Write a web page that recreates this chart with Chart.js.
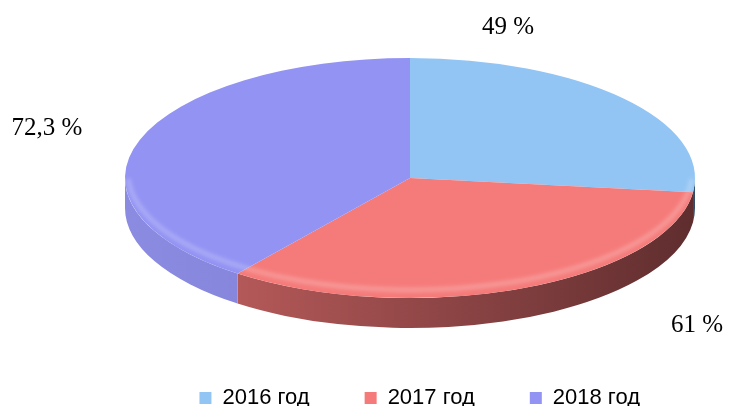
<!DOCTYPE html>
<html>
<head>
<meta charset="utf-8">
<script src="https://cdn.jsdelivr.net/npm/chart.js@4"></script>
<style>
  html, body { margin: 0; padding: 0; background: #fff; overflow: hidden; }
  #wrap { width: 729px; height: 406px; position: relative; }
</style>
</head>
<body>
<div id="wrap"><canvas id="pie" width="729" height="406"></canvas></div>
<script>
// Chart data
const years = ['2016 год', '2017 год', '2018 год'];
const values = [49, 61, 72.3];
const valueLabels = ['49 %', '61 %', '72,3 %'];

const topColors = ['#93c5f4', '#f57b7a', '#9393f4'];
const sideLight = ['#5d88b4', '#c96363', '#8b8be2'];
const sideDark = ['#2f4c6a', '#5f2d2e', '#7373c6'];

// 3D look: the flat pie is stretched sideways, then a wall is drawn under it
const stretch = 2.375;
const depth = 30;

const tilt3d = {
  id: 'tilt3d',
  beforeDatasetsDraw(chart) {
    const ctx = chart.ctx;
    const arcs = chart.getDatasetMeta(0).data;
    if (!arcs.length) return;
    const cx = arcs[0].x, cy = arcs[0].y;
    const ry = arcs[0].outerRadius, rx = ry * stretch;

    arcs.forEach((arc, i) => {
      const a1 = Math.max(arc.startAngle, 0);
      const a2 = Math.min(arc.endAngle, Math.PI);
      if (a2 <= a1) return;
      const g = ctx.createLinearGradient(cx - rx, 0, cx + rx, 0);
      g.addColorStop(0, sideLight[i]);
      g.addColorStop(1, sideDark[i]);
      ctx.save();
      ctx.beginPath();
      ctx.ellipse(cx, cy, rx, ry, 0, a1, a2, false);
      ctx.ellipse(cx, cy + depth, rx, ry, 0, a2, a1, true);
      ctx.closePath();
      ctx.fillStyle = g;
      ctx.fill();
      ctx.restore();
    });

    ctx.save();
    ctx.translate(cx, cy);
    ctx.scale(stretch, 1);
    ctx.translate(-cx, -cy);
  },
  afterDatasetsDraw(chart) {
    const ctx = chart.ctx;
    ctx.restore();
    const arcs = chart.getDatasetMeta(0).data;
    if (!arcs.length) return;
    const cx = arcs[0].x, cy = arcs[0].y;
    const ry = arcs[0].outerRadius, rx = ry * stretch;

    // soft rim highlight along the front edge
    ctx.save();
    ctx.filter = 'blur(2px)';
    ctx.beginPath();
    ctx.ellipse(cx, cy - 5, rx - 3, ry - 3, 0, 0.05, Math.PI - 0.05);
    ctx.strokeStyle = 'rgba(255,255,255,0.28)';
    ctx.lineWidth = 4;
    ctx.stroke();
    ctx.restore();

    // value labels
    const labelSpots = [[508, 27], [697, 325], [47, 128]];
    ctx.save();
    ctx.font = '25px "Liberation Serif", "Times New Roman", serif';
    ctx.fillStyle = '#000';
    ctx.textAlign = 'center';
    ctx.textBaseline = 'middle';
    valueLabels.forEach((t, i) => {
      ctx.fillText(t, labelSpots[i][0], labelSpots[i][1]);
    });
    ctx.restore();
  }
};

new Chart(document.getElementById('pie'), {
  type: 'pie',
  data: {
    labels: years,
    datasets: [{
      data: values,
      backgroundColor: topColors,
      borderWidth: 0,
      radius: 120
    }]
  },
  options: {
    responsive: false,
    animation: false,
    rotation: 0,
    layout: { padding: { left: 125, right: 34, top: 24, bottom: -13 } },
    plugins: {
      tooltip: { enabled: false },
      legend: {
        position: 'bottom',
        align: 'end',
        labels: {
          boxWidth: 12,
          boxHeight: 12,
          padding: 55,
          color: '#000',
          font: { family: '"Liberation Sans", Arial, sans-serif', size: 22 }
        }
      }
    }
  },
  plugins: [tilt3d]
});
</script>
</body>
</html>
